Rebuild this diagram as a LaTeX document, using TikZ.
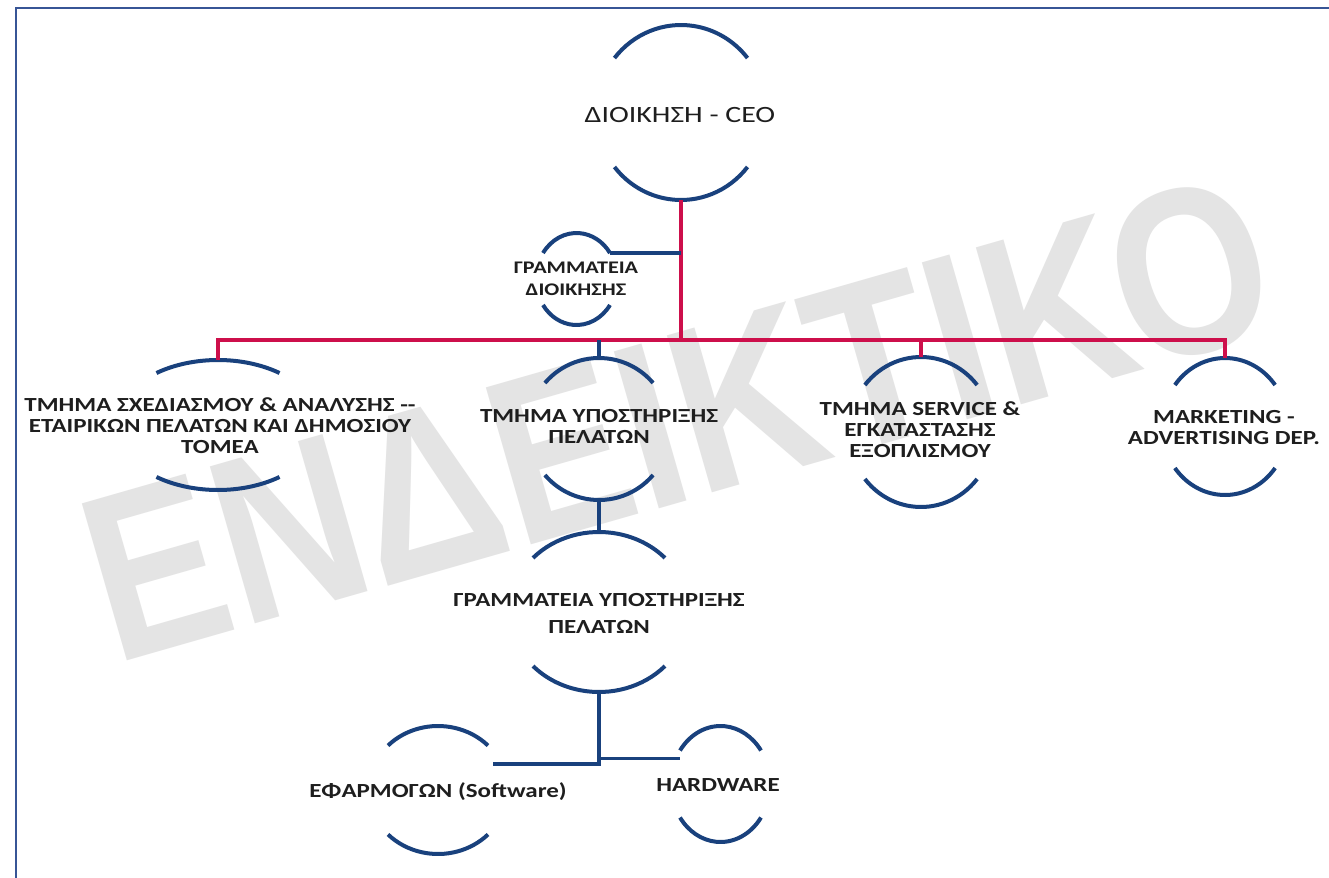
\documentclass[tikz,border=0pt]{standalone}
\usepackage{fontspec}
\setmainfont{Carlito}
\newfontfamily\lblfont[FakeStretch=1.25]{Carlito}
\newfontfamily\ceofont[FakeStretch=1.28]{Carlito}
\newfontfamily\wmfont[FakeStretch=0.84]{Liberation Sans}
\definecolor{navy}{RGB}{25,65,125}
\definecolor{crim}{RGB}{205,15,75}
\definecolor{framec}{RGB}{55,85,150}
\definecolor{txtc}{RGB}{30,30,30}
\definecolor{wmgray}{RGB}{228,228,228}
\tikzset{
  arcline/.style={draw=navy, line width=3pt},
  redline/.style={draw=crim, line width=3pt},
  blueline/.style={draw=navy, line width=2.6pt},
  lbl/.style={font=\lblfont\bfseries\fontsize{15}{15.8}\selectfont, text=txtc, align=center, inner sep=0pt},
  ceolbl/.style={font=\ceofont\fontsize{17.5}{20}\selectfont, text=txtc, align=center, inner sep=0pt},
  wmark/.style={font=\wmfont\bfseries\fontsize{178}{178}\selectfont, text=wmgray, rotate=16, inner sep=0pt},
  framel/.style={draw=framec, line width=2.2pt}
}
% name, cx, cy, x radius, y radius, half-gap angle
\newcommand\OrgUnit[6]{%
  \coordinate (#1) at (#2,#3);
  \draw[arcline] (#1) ++({180+#6}:#4 and #5) coordinate (#1-tl)
     arc[start angle={180+#6}, end angle={360-#6}, x radius=#4, y radius=#5] coordinate (#1-tr);
  \draw[arcline] (#1) ++({#6}:#4 and #5) coordinate (#1-br)
     arc[start angle={#6}, end angle={180-#6}, x radius=#4, y radius=#5] coordinate (#1-bl);
  \path (#1) ++(0,-#5) coordinate (#1-t);
  \path (#1) ++(0,#5) coordinate (#1-b);
}
\begin{document}
\begin{tikzpicture}[x=0.75pt,y=-0.75pt]
\useasboundingbox (0,0) rectangle (1329,878);
\fill[white] (0,0) rectangle (1329,878);
% watermark
\node[wmark] (wm) at (678,418) {ΕΝΔΕΙΚΤΙΚΟ};
% frame
\coordinate (fbl) at (16,878);
\coordinate (ftl) at (16,8);
\coordinate (ftr) at (1329,8);
\draw[framel] (fbl) -- (ftl) -- (ftr);
% units
\OrgUnit{ceo}{681}{112.5}{85}{87.5}{38.5}
\OrgUnit{gd}{576.5}{279}{40.6}{46}{34.4}
\OrgUnit{da}{218}{425}{102.5}{65}{53.1}
\OrgUnit{db}{599}{429}{71}{71}{40.4}
\OrgUnit{dc}{921}{432}{72}{75}{38.8}
\OrgUnit{dd}{1225}{426.5}{63}{68.5}{37.3}
\OrgUnit{gy}{599}{612}{89.5}{80}{42.5}
\OrgUnit{sw}{438}{790}{69.5}{64}{44}
\OrgUnit{hw}{720.5}{784}{49.6}{58}{35.3}
% labels
\node[ceolbl] (ceo-l) at (680,115) {ΔΙΟΙΚΗΣΗ - CEO};
\node[lbl, font=\lblfont\bfseries\fontsize{13.3}{16.5}\selectfont] (gd-l) at (576,279) {ΓΡΑΜΜΑΤΕΙΑ\\ΔΙΟΙΚΗΣΗΣ};
\node[lbl] (da-l) at (220,426) {ΤΜΗΜΑ ΣΧΕΔΙΑΣΜΟΥ \& ΑΝΑΛΥΣΗΣ --\\ΕΤΑΙΡΙΚΩΝ ΠΕΛΑΤΩΝ ΚΑΙ ΔΗΜΟΣΙΟΥ\\ΤΟΜΕΑ};
\node[lbl] (db-l) at (599,426) {ΤΜΗΜΑ ΥΠΟΣΤΗΡΙΞΗΣ\\ΠΕΛΑΤΩΝ};
\node[lbl] (dc-l) at (920,429.5) {ΤΜΗΜΑ SERVICE \&\\ΕΓΚΑΤΑΣΤΑΣΗΣ\\ΕΞΟΠΛΙΣΜΟΥ};
\node[lbl] (dd-l) at (1224,427.5) {MARKETING -\\ADVERTISING DEP.};
\node[lbl, font=\lblfont\bfseries\fontsize{15}{20}\selectfont] (gy-l) at (599,613.5) {ΓΡΑΜΜΑΤΕΙΑ ΥΠΟΣΤΗΡΙΞΗΣ\\ΠΕΛΑΤΩΝ};
\node[lbl] (sw-l) at (438,792) {ΕΦΑΡΜΟΓΩΝ (Software)};
\node[lbl] (hw-l) at (718,785) {HARDWARE};
% connectors
\coordinate (bus) at (681,340);
\draw[redline] (ceo-b) -- (bus);
\draw[redline] (da-t) -- (da-t |- bus) -- (dd-t |- bus) -- (dd-t);
\draw[redline] (dc-t) -- (dc-t |- bus);
\draw[blueline] (db-t) -- (db-t |- bus);
\draw[blueline] (gd-tr) -- (gd-tr -| ceo-b);
\draw[blueline] (db-b) -- (gy-t);
\coordinate (jb) at (599,764);
\coordinate (swr) at (493,764);
\coordinate (hwl) at (680,758.5);
\draw[blueline] (gy-b) -- (jb) -- (swr);
\draw[blueline] (jb |- hwl) -- (hwl);
\end{tikzpicture}
\end{document}
